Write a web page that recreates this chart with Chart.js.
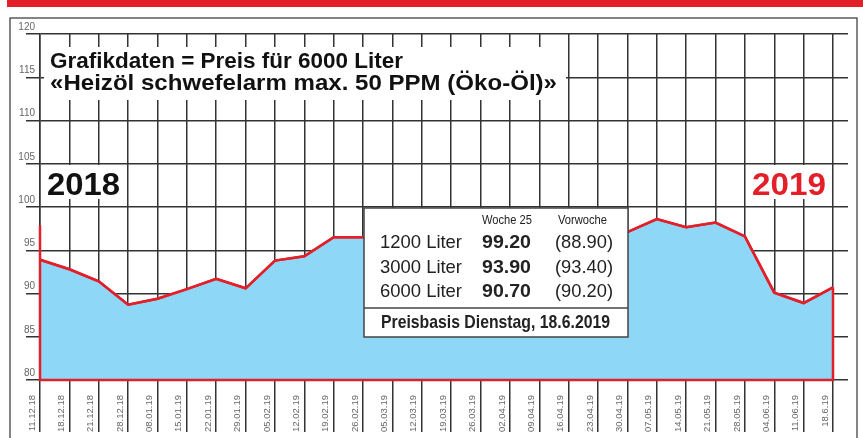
<!DOCTYPE html>
<html>
<head>
<meta charset="utf-8">
<script src="https://cdn.jsdelivr.net/npm/chart.js@4"></script>
<style>
html, body { margin: 0; padding: 0; background: #fff; }
#wrap { position: relative; width: 863px; height: 438px; overflow: hidden; }
#myChart { position: absolute; left: 0; top: 0; }
#deco { position: absolute; left: 0; top: 0; pointer-events: none; }
</style>
</head>
<body>
<div id="wrap">
  <canvas id="myChart" width="863" height="438"></canvas>
  <svg id="deco" width="863" height="438" xmlns="http://www.w3.org/2000/svg"></svg>
</div>
<script>
// Wochendaten (Preis für 6000 Liter)
var weeks = ['11.12.18', '18.12.18', '21.12.18', '28.12.18', '08.01.19', '15.01.19', '22.01.19',
  '29.01.19', '05.02.19', '12.02.19', '19.02.19', '26.02.19', '05.03.19', '12.03.19', '19.03.19',
  '26.03.19', '02.04.19', '09.04.19', '16.04.19', '23.04.19', '30.04.19', '07.05.19', '14.05.19',
  '21.05.19', '28.05.19', '04.06.19', '11.06.19', '18.6.19'];
var prices = [93.9, 92.8, 91.4, 88.7, 89.4, 90.5, 91.7, 90.6, 93.8, 94.3, 96.5, 96.5,
  96.3, 95.8, 96.1, 96.9, 97.4, 96.8, 96.2, 96.6, 97.1,
  98.6, 97.65, 98.2, 96.6, 90.1, 88.9, 90.7];
var startMark = 97.9;   // rote Startlinie links
var yMin = 80, yMax = 120, yStep = 5;

// Tabelle im Kasten
var boxHeads = ['Woche 25', 'Vorwoche'];
var boxRows = ['1200 Liter', '3000 Liter', '6000 Liter'];
var boxWeek = ['99.20', '93.90', '90.70'];
var boxPrev = ['(88.90)', '(93.40)', '(90.20)'];
var boxFoot = 'Preisbasis Dienstag, 18.6.2019';
var titleLines = ['Grafikdaten = Preis für 6000 Liter', '«Heizöl schwefelarm max. 50 PPM (Öko-Öl)»'];

var RED = '#e3202a';
var BLUE = '#8fd7f7';
var GRID = '#333333';
var SANS = "'Liberation Sans', Arial, Helvetica, sans-serif";

// rote Linie über dem Gitter nochmal zeichnen + Rahmen der Fläche
var redEdges = {
    id: 'redEdges',
    afterDraw: function(chart) {
        var ctx = chart.ctx;
        var x = chart.scales.x, y = chart.scales.y;
        var meta = chart.getDatasetMeta(0);
        var last = prices.length - 1;
        ctx.save();
        meta.dataset.draw(ctx, chart.chartArea);
        ctx.strokeStyle = RED;
        ctx.lineWidth = 2.5;
        ctx.beginPath();
        ctx.moveTo(x.getPixelForValue(0), y.getPixelForValue(startMark));
        ctx.lineTo(x.getPixelForValue(0), y.getPixelForValue(yMin));
        ctx.lineTo(x.getPixelForValue(last), y.getPixelForValue(yMin));
        ctx.lineTo(x.getPixelForValue(last), y.getPixelForValue(prices[last]));
        ctx.stroke();
        ctx.restore();
    }
};

var ctx = document.getElementById('myChart');
var myChart = new Chart(ctx, {
    type: 'line',
    data: {
        labels: weeks,
        datasets: [{
            data: prices,
            borderColor: RED,
            borderWidth: 2.5,
            backgroundColor: BLUE,
            fill: 'start',
            pointRadius: 0,
            tension: 0
        }]
    },
    options: {
        responsive: false,
        animation: false,
        layout: { padding: { top: 34, left: 0, right: 0, bottom: 0 } },
        plugins: {
            legend: { display: false },
            tooltip: { enabled: false }
        },
        scales: {
            x: {
                z: 1,
                grid: { color: GRID, lineWidth: 1.5, tickLength: 52, tickColor: GRID },
                border: { color: GRID, width: 1.5 },
                ticks: {
                    autoSkip: false, minRotation: 90, maxRotation: 90,
                    padding: -37, labelOffset: -8,
                    color: '#666', font: { family: SANS, size: 9.5 }
                },
                afterFit: function(s) { s.height = 58; }
            },
            y: {
                z: 1,
                min: yMin, max: yMax,
                grid: { color: GRID, lineWidth: 1.5, tickLength: 14, tickColor: GRID },
                border: { color: GRID, width: 1.5 },
                ticks: {
                    stepSize: yStep, padding: -9, labelOffset: -7,
                    color: '#666', font: { family: SANS, size: 10 }
                },
                afterFit: function(s) { s.width = 40; }
            },
            y2: {
                position: 'right',
                min: yMin, max: yMax,
                grid: { drawOnChartArea: false, color: GRID, lineWidth: 1.5, tickLength: 15, tickColor: GRID },
                border: { display: false },
                ticks: { stepSize: yStep, display: false },
                afterFit: function(s) { s.width = 30; }
            }
        }
    },
    plugins: [redEdges]
});

// Deko: Rahmen, Titel, Jahreszahlen, Kasten
var svg = document.getElementById('deco');
var NS = 'http://www.w3.org/2000/svg';
function el(tag, attrs, text) {
    var e = document.createElementNS(NS, tag);
    for (var k in attrs) e.setAttribute(k, attrs[k]);
    if (text !== undefined) e.textContent = text;
    svg.appendChild(e);
    return e;
}
function txt(x, y, size, weight, fill, str, len) {
    var a = { x: x, y: y, 'font-family': SANS, 'font-size': size, 'font-weight': weight, fill: fill };
    if (len) { a.textLength = len; a.lengthAdjust = 'spacingAndGlyphs'; }
    return el('text', a, str);
}
el('rect', { x: 7, y: 0, width: 856, height: 7, fill: RED });
el('rect', { x: 10, y: 18, width: 847, height: 440, fill: 'none', stroke: GRID, 'stroke-width': 1.2 });

el('rect', { x: 44, y: 47, width: 522, height: 53, fill: '#fff' });
txt(50, 68, 21.5, 'bold', '#111', titleLines[0], 353);
txt(50, 90, 21.5, 'bold', '#111', titleLines[1], 507);

el('rect', { x: 41, y: 165, width: 84, height: 34, fill: '#fff' });
txt(47, 195, 32, 'bold', '#111', '2018', 73);
el('rect', { x: 746, y: 165, width: 86, height: 34, fill: '#fff' });
txt(752, 195, 32, 'bold', RED, '2019', 74);

el('rect', { x: 364, y: 208, width: 264, height: 129, fill: '#fff', stroke: '#444', 'stroke-width': 1.5 });
el('line', { x1: 364, y1: 308, x2: 628, y2: 308, stroke: '#444', 'stroke-width': 1.5 });
txt(482, 224, 12.5, 'normal', '#222', boxHeads[0], 50);
txt(558, 224, 12.5, 'normal', '#222', boxHeads[1], 49);
for (var i = 0; i < boxRows.length; i++) {
    var by = 248 + i * 24.5;
    txt(380, by, 19, 'normal', '#222', boxRows[i], 82);
    txt(482, by, 19, 'bold', '#222', boxWeek[i], 49);
    txt(555, by, 19, 'normal', '#222', boxPrev[i], 58);
}
txt(381, 328, 18.5, 'bold', '#222', boxFoot, 229);
</script>
</body>
</html>
